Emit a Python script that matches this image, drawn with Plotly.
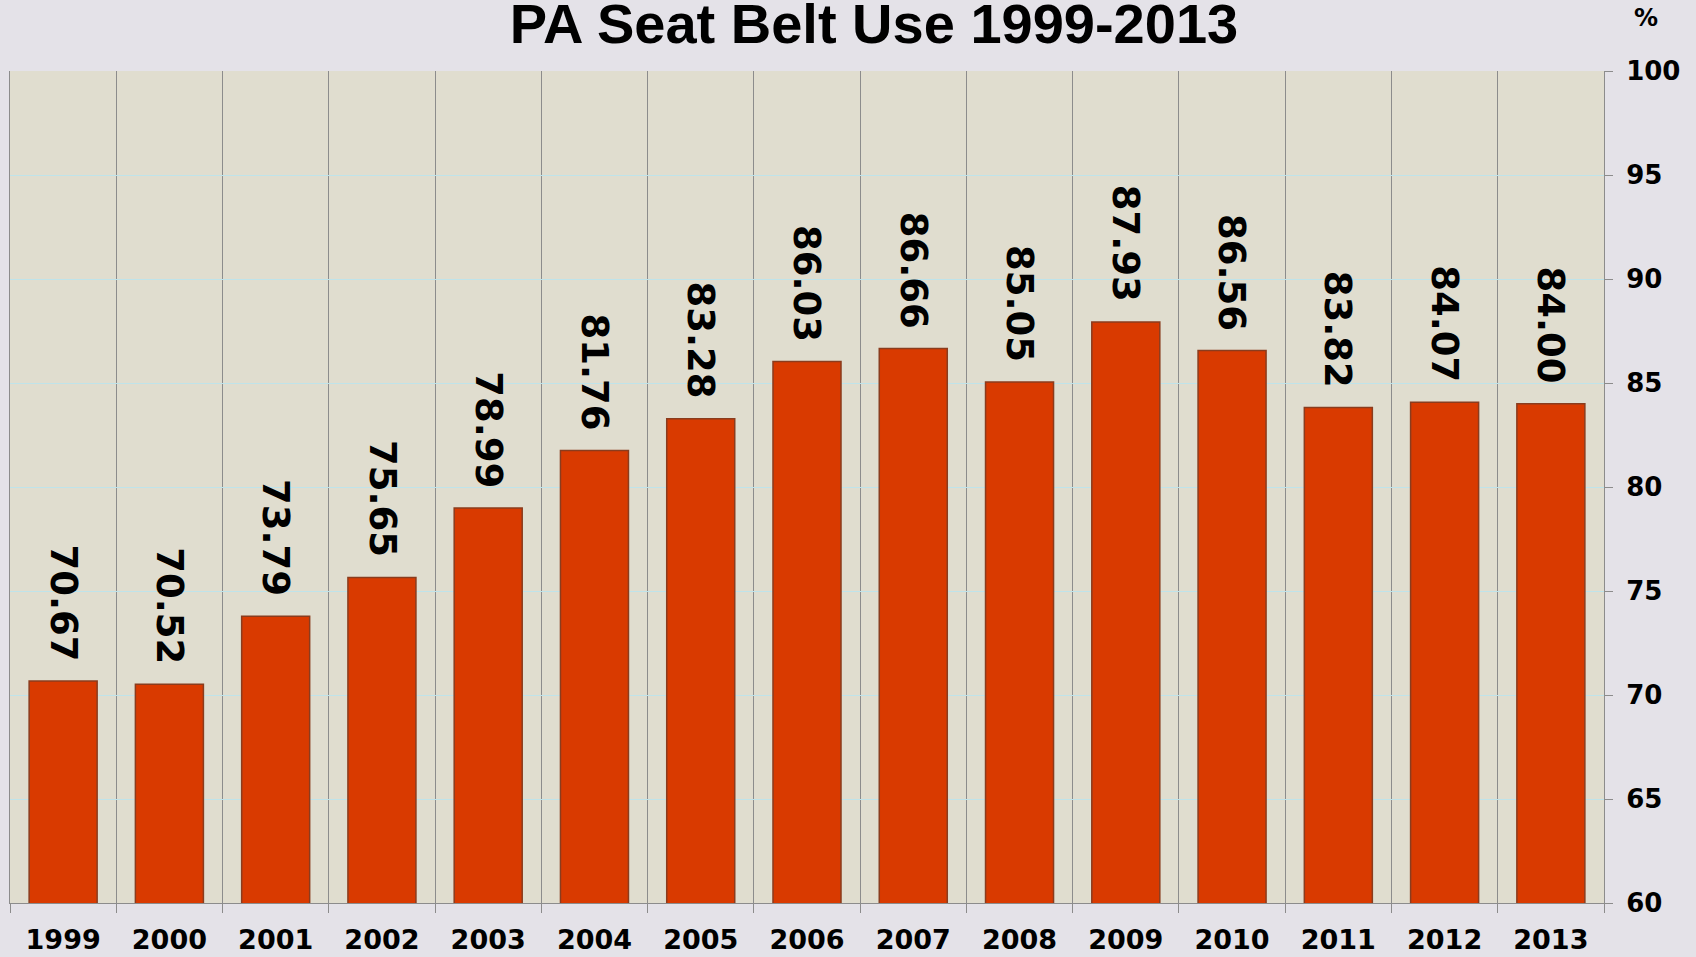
import plotly.graph_objects as go

years = ["1999", "2000", "2001", "2002", "2003", "2004", "2005", "2006",
         "2007", "2008", "2009", "2010", "2011", "2012", "2013"]
belt_use = [70.67, 70.52, 73.79, 75.65, 78.99, 81.76, 83.28, 86.03,
            86.66, 85.05, 87.93, 86.56, 83.82, 84.07, 84.00]
y_ticks = [60, 65, 70, 75, 80, 85, 90, 95, 100]
title_text = "PA Seat Belt Use 1999-2013"
unit_text = "%"

LABEL_FONT = "DejaVu Sans, Verdana, sans-serif"

fig = go.Figure()
fig.add_trace(go.Bar(
    x=years, y=belt_use,
    marker=dict(color="#D93A00", line=dict(color="#8A3C1E", width=1.5)),
    hoverinfo="x+y",
))

for i, v in enumerate(belt_use):
    fig.add_annotation(
        x=i, y=v, text=f"{v:.2f}", textangle=90, showarrow=False,
        xanchor="center", yanchor="bottom", yshift=18,
        font=dict(family=LABEL_FONT, size=37, color="black", weight="bold"),
    )

fig.add_annotation(
    xref="paper", yref="paper", x=1, y=1, text=unit_text, showarrow=False,
    xanchor="center", yanchor="middle", xshift=42, yshift=53,
    font=dict(family=LABEL_FONT, size=24, color="black", weight="bold"),
)

fig.update_layout(
    width=1696, height=957,
    margin=dict(l=10, r=92, t=71, b=54, autoexpand=False),
    paper_bgcolor="#E4E2E8",
    plot_bgcolor="#E0DDCF",
    bargap=0.36,
    showlegend=False,
    title=dict(
        text=title_text, x=874 / 1696, xanchor="center",
        y=1 - 23 / 957, yanchor="middle", yref="container",
        font=dict(family="Liberation Sans, Arial, sans-serif", size=56,
                  color="black", weight="bold"),
    ),
    xaxis=dict(
        type="category", range=[-0.5, 14.5], automargin=False,
        tickson="boundaries", ticks="outside", ticklen=9,
        tickcolor="#8C8C8C", tickwidth=1,
        showgrid=True, gridcolor="#8C8C8C", gridwidth=1,
        showline=True, linecolor="#8C8C8C", linewidth=1,
        tickfont=dict(family=LABEL_FONT, size=27, color="black", weight="bold"),
        ticklabelstandoff=13,
    ),
    yaxis=dict(
        side="right", range=[60, 100], tickvals=y_ticks, automargin=False,
        ticks="outside", ticklen=8, tickcolor="#8C8C8C",
        showgrid=True, gridcolor="#BFE3EA", gridwidth=1,
        showline=True, linecolor="#8C8C8C", linewidth=1, mirror=True,
        zeroline=False,
        tickfont=dict(family=LABEL_FONT, size=26, color="black", weight="bold"),
        ticklabelstandoff=8,
    ),
)

fig.write_html("out.html", config={"displayModeBar": False},
               post_script="document.body.style.margin='0';")
